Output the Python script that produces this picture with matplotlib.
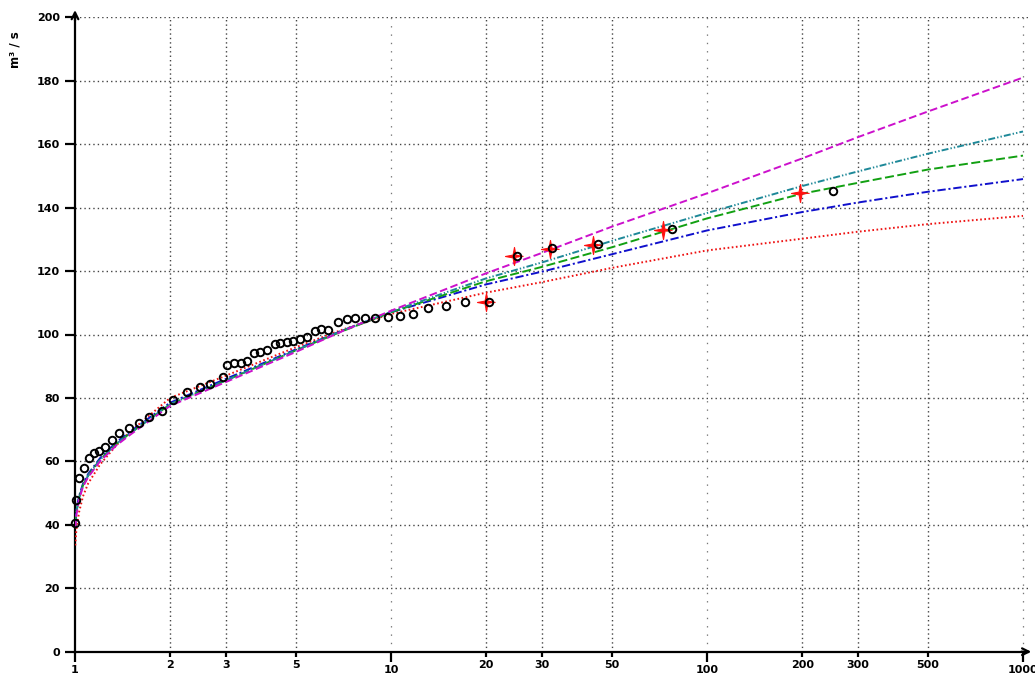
"""Flood frequency plot: observed peaks and fitted distributions."""
import matplotlib

matplotlib.use("Agg")
import matplotlib.pyplot as plt
import numpy as np
from matplotlib.ticker import FixedLocator, NullFormatter

plt.rcParams["font.family"] = ["DejaVu Sans"]
plt.rcParams["lines.scale_dashes"] = False

# return periods (years) and discharges (m3/s)
obs_T = [1.000, 1.007, 1.030, 1.068, 1.107, 1.149, 1.191, 1.244, 1.309, 1.378,
         1.482, 1.594, 1.715, 1.885, 2.041, 2.262, 2.487, 2.676, 2.940, 3.026,
         3.188, 3.354, 3.502, 3.684, 3.846, 4.050, 4.295, 4.453, 4.688, 4.897,
         5.152, 5.423, 5.746, 6.000, 6.321, 6.799, 7.257, 7.687, 8.264, 8.885,
         9.770, 10.66, 11.70, 13.08, 14.93, 17.14, 20.4, 25.0, 32.3, 45.1,
         77.5, 251.0]
obs_Q = [40.5, 47.8, 54.8, 58.0, 61.2, 62.5, 63.4, 64.5, 66.6, 68.8,
         70.4, 72.0, 74.0, 76.0, 79.5, 82.0, 83.4, 84.5, 86.5, 90.3,
         90.9, 90.9, 91.5, 94.1, 94.6, 95.0, 97.0, 97.2, 97.6, 98.0,
         98.5, 99.3, 101.2, 101.6, 101.4, 104.0, 105.0, 105.1, 105.1, 105.1,
         105.4, 105.7, 106.6, 108.2, 109.1, 110.1, 110.4, 124.6, 127.4, 128.4,
         133.4, 145.1]

hist_T = [20.0, 24.5, 31.8, 43.5, 72.6, 197.0]
hist_Q = [110.1, 124.6, 127.1, 128.1, 133.1, 144.5]

fit_T = [1.002, 1.01, 1.03, 1.06, 1.1, 1.2, 1.35, 1.5, 2, 3, 5, 7, 10,
         20, 30, 50, 100, 200, 300, 500, 1000]
fit_magenta = [39, 43, 48, 52, 55, 60, 65, 68.5, 77.5, 85, 94.5, 101, 107.5,
               119.3, 125.7, 134, 144.5, 155.5, 162.2, 170.3, 181]
fit_teal = [40, 44, 48.5, 52.5, 55.5, 60.5, 65.5, 69, 78, 85.5, 95, 101.2, 107.2,
            117.7, 122.7, 129.5, 138.3, 146.8, 151.4, 157, 164]
fit_green = [40, 44, 48.5, 52.5, 55.5, 60.5, 65.5, 69, 78, 85.5, 95, 101, 107,
             116.8, 121.3, 127.5, 136.6, 144.4, 147.8, 152, 156.4]
fit_blue = [41, 45, 49, 53, 56, 61, 66, 69.5, 78.5, 86, 95.3, 101.2, 107,
            115.8, 119.8, 125.3, 132.8, 138.6, 141.6, 145, 149]
fit_red = [33.5, 38.5, 44, 49, 53, 59, 65, 69.5, 80, 87, 96, 101.5, 106.5,
           113.2, 116.5, 121, 126.5, 130.2, 132.4, 134.8, 137.4]

x_major = [1, 10, 100, 1000]
x_minor = [2, 3, 5, 20, 30, 50, 200, 300, 500]
y_ticks = list(range(0, 201, 20))

# thin four-armed star marker
ang = np.arange(8) * np.pi / 4
rad = np.where(np.arange(8) % 2 == 0, 1.0, 0.22)
star = list(zip(rad * np.cos(ang), rad * np.sin(ang)))

W, H = 1035, 677
fig = plt.figure(figsize=(W / 100, H / 100), dpi=100)
ax = fig.add_axes([75 / W, (H - 651.7) / H, (1028 - 75) / W, (651.7 - 17.3) / H])
ax.set_xscale("log")
ax.set_xlim(1, 1037)
ax.set_ylim(0, 200)

curves = [
    (fit_red, "#ee1111", (0, (1.2, 1.8))),
    (fit_blue, "#1010cc", (0, (6, 2, 1.5, 2))),
    (fit_green, "#12a012", (0, (6.5, 2.5))),
    (fit_teal, "#1d8898", (0, (5, 1.5, 1, 1.5, 1, 1.5))),
    (fit_magenta, "#cc10cc", (0, (5.5, 2.5))),
]
for vals, col, ls in curves:
    ax.plot(fit_T, vals, color=col, lw=1.4, linestyle=ls, zorder=3)

ax.plot(hist_T, hist_Q, linestyle="none", marker=star, ms=13,
        color="#ff1010", mec="#ff1010", mew=0.8, zorder=4, clip_on=False)
ax.plot(obs_T, obs_Q, linestyle="none", marker="o", ms=5.4, mfc="none",
        mec="black", mew=1.4, zorder=5, clip_on=False)

# grid
for y in y_ticks[1:]:
    ax.axhline(y, color="#444444", lw=1.0, linestyle=(0, (1, 2.2)), zorder=1)
for x in x_minor:
    ax.axvline(x, color="#444444", lw=1.0, linestyle=(0, (1, 2.2)), zorder=1)
for x in x_major[1:]:
    ax.axvline(x, color="#777777", lw=0.9, linestyle=(0, (1, 5)), zorder=1)

# axes, ticks, labels
for s in ("top", "right"):
    ax.spines[s].set_visible(False)
for s in ("left", "bottom"):
    ax.spines[s].set_linewidth(1.6)

ax.xaxis.set_major_locator(FixedLocator(x_major))
ax.xaxis.set_minor_locator(FixedLocator(x_minor))
ax.set_xticklabels([str(v) for v in x_major])
ax.xaxis.set_minor_formatter(NullFormatter())
ax.set_xticks(x_minor, [str(v) for v in x_minor], minor=True)
ax.set_yticks(y_ticks, [str(v) for v in y_ticks])

ax.tick_params(axis="x", which="major", direction="out", length=7, width=1.6,
               pad=2.5, labelsize=8)
ax.tick_params(axis="x", which="minor", direction="out", length=3.5, width=1.6,
               pad=2.5, labelsize=8)
ax.tick_params(axis="y", direction="out", length=7, width=1.6, pad=4, labelsize=8)
for t in ax.get_xticklabels(which="both") + ax.get_yticklabels():
    t.set_fontweight("bold")

ax.annotate("", xy=(0, 1 + 10 / 634), xycoords="axes fraction", xytext=(0, 0.99),
            arrowprops=dict(arrowstyle="->", lw=1.6, color="black",
                            mutation_scale=12), annotation_clip=False)
ax.annotate("", xy=(1 + 6 / 953, 0), xycoords="axes fraction", xytext=(0.99, 0),
            arrowprops=dict(arrowstyle="->", lw=1.6, color="black",
                            mutation_scale=12), annotation_clip=False)

fig.text(15 / W, 1 - 50 / H, "m³ / s", rotation=90, ha="center", va="center",
         fontsize=8.5, fontweight="bold")

fig.savefig("out.png", dpi=100)
